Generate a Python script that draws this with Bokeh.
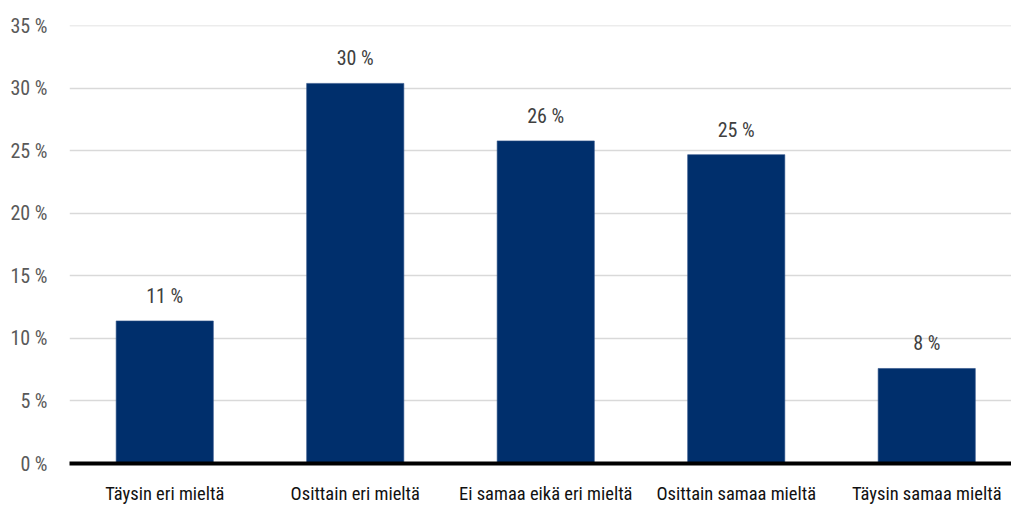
from bokeh.plotting import figure
from bokeh.models import Range1d, FixedTicker, ColumnDataSource
from bokeh.core.properties import value
from bokeh.embed import file_html
from bokeh.resources import INLINE

categories = ["Täysin eri mieltä", "Osittain eri mieltä", "Ei samaa eikä eri mieltä",
              "Osittain samaa mieltä", "Täysin samaa mieltä"]
values = [11.4, 30.4, 25.8, 24.7, 7.6]
value_labels = ["11 %", "30 %", "26 %", "25 %", "8 %"]
yticks = [0, 5, 10, 15, 20, 25, 30, 35]
ytick_labels = ["0 %", "5 %", "10 %", "15 %", "20 %", "25 %", "30 %", "35 %"]

FONT = "'Roboto Condensed', 'Liberation Sans Narrow', Roboto, sans-serif"

xs = list(range(len(categories)))
src = ColumnDataSource(dict(x=xs, top=values, lab=value_labels))

p = figure(width=1011, height=507, output_backend="svg", toolbar_location=None,
           x_range=Range1d(-0.5, 4.445), y_range=Range1d(0, 35.03),
           min_border_left=69, min_border_right=0, min_border_top=25, min_border_bottom=43)
p.outline_line_color = None
p.background_fill_color = "white"
p.border_fill_color = "white"

p.vbar(x="x", top="top", width=0.51, bottom=0, source=src,
       fill_color="#002F6C", line_color="#2a4f86", line_width=0.6)

p.text(x="x", y="top", text="lab", source=src, text_align="center", text_baseline="middle",
       y_offset=-25, text_font=value(FONT), text_font_size="20px", text_color="#404040")

# x axis
p.xaxis.ticker = FixedTicker(ticks=xs)
p.xaxis.major_label_overrides = {i: c for i, c in zip(xs, categories)}
p.xaxis.major_tick_line_color = None
p.xaxis.major_tick_out = 0
p.xaxis.major_tick_in = 0
p.xaxis.minor_tick_line_color = None
p.xaxis.axis_line_color = "black"
p.xaxis.axis_line_width = 4
p.xaxis.major_label_standoff = 19
p.xaxis.major_label_text_font = FONT
p.xaxis.major_label_text_font_size = "18.5px"
p.xaxis.major_label_text_color = "#111111"
p.xgrid.grid_line_color = None

# y axis
p.yaxis.ticker = FixedTicker(ticks=yticks)
p.yaxis.major_label_overrides = {t: l for t, l in zip(yticks, ytick_labels)}
p.yaxis.major_tick_line_color = None
p.yaxis.major_tick_out = 0
p.yaxis.major_tick_in = 0
p.yaxis.minor_tick_line_color = None
p.yaxis.axis_line_color = None
p.yaxis.major_label_standoff = 22
p.yaxis.major_label_text_font = FONT
p.yaxis.major_label_text_font_size = "20px"
p.yaxis.major_label_text_color = "#595959"
p.ygrid.grid_line_color = "#d9d9d9"
p.ygrid.grid_line_width = 1.5

open("out.html", "w").write(file_html(p, INLINE))
